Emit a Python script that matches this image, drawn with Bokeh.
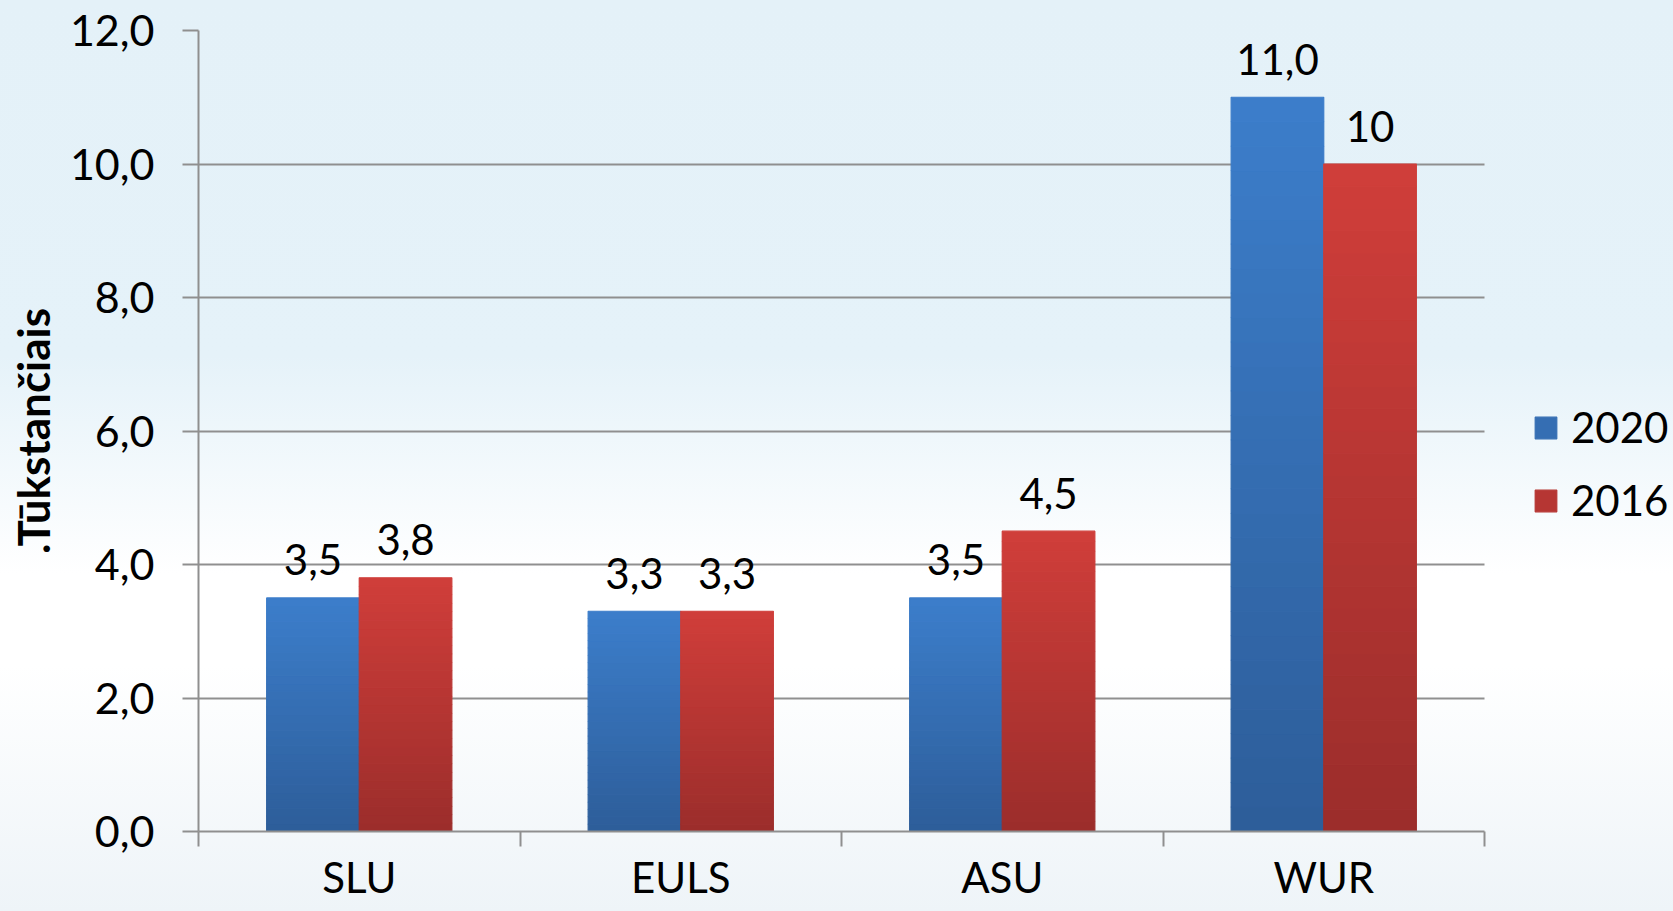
from bokeh.plotting import figure
from bokeh.models import (Range1d, LinearAxis, FixedTicker, CustomJSTickFormatter,
                          ColumnDataSource, Legend, LegendItem, Grid)
from bokeh.embed import file_html
from bokeh.resources import INLINE
from bokeh.core.properties import value

# ---------------- data ----------------
universities = ["SLU", "EULS", "ASU", "WUR"]
series_names = ["2020", "2016"]
values_2020 = [3.5, 3.3, 3.5, 11.0]
values_2016 = [3.8, 3.3, 4.5, 10.0]
labels_2020 = ["3,5", "3,3", "3,5", "11,0"]
labels_2016 = ["3,8", "3,3", "4,5", "10"]
y_ticks = [0, 2, 4, 6, 8, 10, 12]
y_axis_title = ".Tūkstančiais"

# ---------------- style / layout ----------------
FONT = "Lato"
GRAY = "#8f8f8f"
BLUE_TOP, BLUE_BOT = (0x3c, 0x7e, 0xcb), (0x2d, 0x5d, 0x99)
RED_TOP, RED_BOT = (0xd0, 0x3e, 0x3a), (0x9b, 0x2d, 0x2b)
BAR_W = 0.288
OFFSET = 0.144
NSLICE = 30

W, H = 1673, 911
LEFT, RIGHT_AXIS_END, RIGHT_PAD = 198, 1484, 0
n = len(universities)
x_end = n * (W - RIGHT_PAD - LEFT) / (RIGHT_AXIS_END - LEFT)  # room on the right for the legend

p = figure(width=W, height=H, x_range=Range1d(0, x_end), y_range=Range1d(0, 12),
           x_axis_type=None, y_axis_type=None, output_backend="svg", toolbar_location=None,
           min_border_left=LEFT, min_border_right=RIGHT_PAD, min_border_top=30, min_border_bottom=80)
p.background_fill_color = None
p.border_fill_color = None
p.outline_line_color = None
p.styles = {"background": "linear-gradient(to bottom, #e4f1f8 0%, #e5f2f9 39%, #ffffff 63%, #ffffff 73%, #eef4f8 100%)"}

# ---------------- axes ----------------
yaxis = LinearAxis(ticker=FixedTicker(ticks=y_ticks),
                   formatter=CustomJSTickFormatter(code="return tick.toFixed(1).replace('.', ',');"),
                   axis_label=y_axis_title)
yaxis.axis_label_text_font = FONT
yaxis.axis_label_text_font_style = "bold"
yaxis.axis_label_text_font_size = "44px"
yaxis.axis_label_text_color = "black"
yaxis.axis_label_standoff = 8
yaxis.major_label_text_font = FONT
yaxis.major_label_text_font_size = "43px"
yaxis.major_label_text_color = "black"
yaxis.major_label_standoff = 28
yaxis.major_tick_out = 16
yaxis.major_tick_in = 0
yaxis.major_tick_line_color = GRAY
yaxis.major_tick_line_width = 2
yaxis.minor_tick_line_color = None
yaxis.axis_line_color = GRAY
yaxis.axis_line_width = 2
p.add_layout(yaxis, "left")

boundaries = list(range(n + 1))
centers = [i + 0.5 for i in range(n)]
xaxis = LinearAxis(ticker=FixedTicker(ticks=centers, minor_ticks=boundaries),
                   formatter=CustomJSTickFormatter(args=dict(cats=universities),
                                                   code="return cats[Math.floor(tick)];"),
                   bounds=(0, n))
xaxis.major_label_text_font = FONT
xaxis.major_label_text_font_size = "42px"
xaxis.major_label_text_color = "black"
xaxis.major_tick_line_color = None
xaxis.major_tick_out = 0
xaxis.major_tick_in = 0
xaxis.major_label_standoff = 5
xaxis.minor_tick_out = 15
xaxis.minor_tick_in = 0
xaxis.minor_tick_line_color = GRAY
xaxis.minor_tick_line_width = 2
xaxis.axis_line_color = GRAY
xaxis.axis_line_width = 2
p.add_layout(xaxis, "below")

p.add_layout(Grid(dimension=1, ticker=yaxis.ticker, cross_bounds=(0, n),
                  grid_line_color=GRAY, grid_line_width=2))


# ---------------- bars (vertical gradient made of slices) ----------------
def mix(c1, c2, t):
    return "#%02x%02x%02x" % tuple(int(round(a + (b - a) * t)) for a, b in zip(c1, c2))


renderers = []
for vals, ctop, cbot, dx in [(values_2020, BLUE_TOP, BLUE_BOT, -OFFSET),
                             (values_2016, RED_TOP, RED_BOT, OFFSET)]:
    d = dict(left=[], right=[], bottom=[], top=[], color=[])
    for i, v in enumerate(vals):
        xc = i + 0.5 + dx
        for k in range(NSLICE):
            d["left"].append(xc - BAR_W / 2)
            d["right"].append(xc + BAR_W / 2)
            d["bottom"].append(v * k / NSLICE)
            d["top"].append(v * (k + 1) / NSLICE)
            d["color"].append(mix(cbot, ctop, (k + 0.5) / NSLICE))
    r = p.quad(left="left", right="right", bottom="bottom", top="top", source=ColumnDataSource(d),
               fill_color="color", line_color="color", line_width=1.2)
    renderers.append(r)

# ---------------- value labels ----------------
for vals, labs, dx in [(values_2020, labels_2020, -OFFSET), (values_2016, labels_2016, OFFSET)]:
    src = ColumnDataSource(dict(x=[i + 0.5 + dx for i in range(len(vals))], y=vals, t=labs))
    p.text(x="x", y="y", text="t", source=src, y_offset=-38,
           text_align="center", text_baseline="alphabetic",
           text_font=value(FONT), text_font_size="42px", text_color="black")

# ---------------- legend ----------------
legend = Legend(items=[LegendItem(label=series_names[0], renderers=[renderers[0]], index=NSLICE // 2),
                       LegendItem(label=series_names[1], renderers=[renderers[1]], index=NSLICE // 2)],
                location=(1334, 306), orientation="vertical",
                glyph_width=27, glyph_height=27, label_standoff=12, spacing=23,
                padding=0, margin=0, border_line_color=None, background_fill_alpha=0,
                label_text_font=FONT, label_text_font_size="42px", label_text_color="black")
p.add_layout(legend, "center")

open("out.html", "w").write(file_html(p, INLINE))
